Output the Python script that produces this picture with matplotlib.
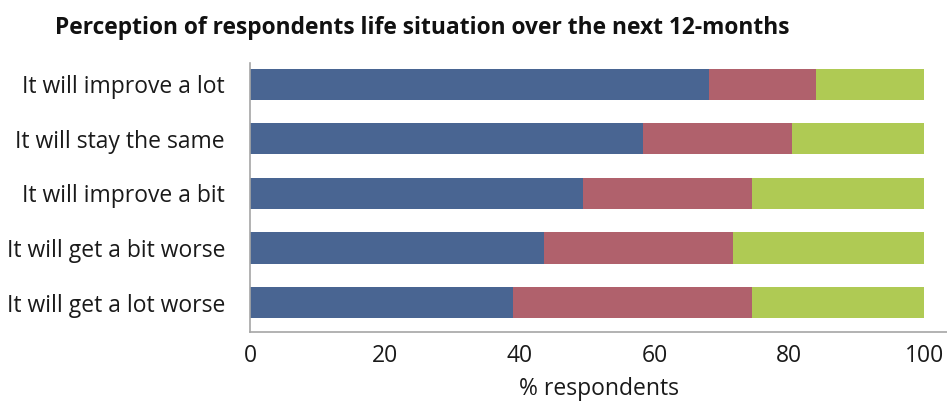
import matplotlib
matplotlib.use("Agg")
import matplotlib.pyplot as plt

categories = ["It will improve a lot", "It will stay the same", "It will improve a bit",
              "It will get a bit worse", "It will get a lot worse"]
series_names = ["Series 1", "Series 2", "Series 3"]
blue_vals = [68.1, 58.3, 49.4, 43.6, 39.0]
red_vals = [15.9, 22.1, 25.1, 28.1, 35.5]
green_vals = [16.0, 19.6, 25.5, 28.3, 25.5]
xticks = [0, 20, 40, 60, 80, 100]

plt.rcParams['font.family'] = ['Open Sans', 'DejaVu Sans']

fig = plt.figure(figsize=(9.47, 4.03), dpi=100)
ax = fig.add_axes([250/947, 1-332/403, (947-250)/947, (332-63)/403])

colors = ["#496592", "#B0616C", "#AFCA54"]
y = list(range(len(categories)))
left = [0]*len(categories)
for vals, c in zip([blue_vals, red_vals, green_vals], colors):
    ax.barh(y, vals, left=left, height=0.57, color=c, edgecolor='none')
    left = [l + v for l, v in zip(left, vals)]

ax.set_ylim(4.54, -0.39)
ax.set_xlim(0, 103.4)
ax.set_xticks(xticks)
ax.set_xticklabels([str(t) for t in xticks])
ax.set_yticks(y)
ax.set_yticklabels(categories)
ax.tick_params(axis='both', length=0, labelsize=16.5, colors='#1a1a1a')
ax.tick_params(axis='x', pad=9)
ax.tick_params(axis='y', pad=18)
for s in ['top', 'right']:
    ax.spines[s].set_visible(False)
for s in ['left', 'bottom']:
    ax.spines[s].set_color('#a6a6a6')
    ax.spines[s].set_linewidth(1.2)
ax.set_xlabel("% respondents", fontsize=16.5, color='#1a1a1a', labelpad=6)
fig.text(55/947, 1-28/403, "Perception of respondents life situation over the next 12-months",
         fontsize=16.4, fontweight='bold', ha='left', va='center', color='#111111')

fig.savefig("out.png", dpi=100)
